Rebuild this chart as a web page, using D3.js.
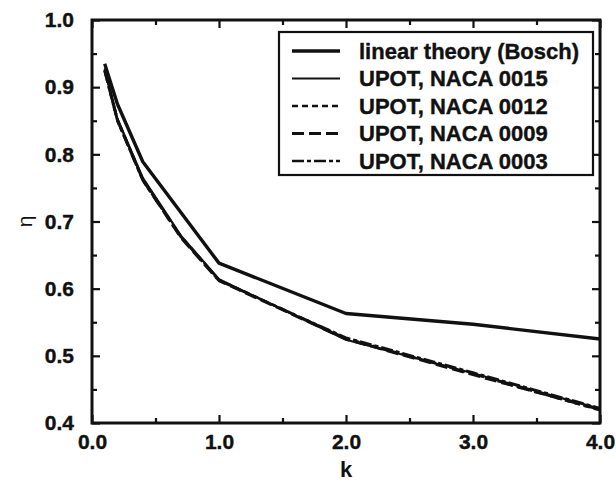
<!DOCTYPE html>
<html>
<head>
<meta charset="utf-8">
<script src="https://cdn.jsdelivr.net/npm/d3@7"></script>
<style>
  html, body { margin: 0; padding: 0; background: #fff; }
  svg { display: block; }
  text { font-family: "Liberation Sans", Arial, Helvetica, sans-serif; fill: #111; }
</style>
</head>
<body>
<svg id="chart" width="616" height="481"></svg>
<script>
// Reduced frequency k and propulsive efficiency eta
const kTheory   = [0.1, 0.2, 0.4, 1.0, 2.0, 3.0, 4.0];
const etaTheory = [0.935, 0.875, 0.789, 0.638, 0.563, 0.547, 0.525];

const kUpot    = [0.1, 0.2, 0.4, 0.7, 1.0, 2.0, 3.0, 4.0];
const eta0015  = [0.928, 0.853, 0.765, 0.679, 0.614, 0.524, 0.474, 0.421];
const eta0012  = [0.926, 0.852, 0.763, 0.678, 0.613, 0.526, 0.473, 0.419];
const eta0009  = [0.925, 0.851, 0.762, 0.676, 0.612, 0.525, 0.472, 0.420];
const eta0003  = [0.924, 0.850, 0.761, 0.677, 0.612, 0.527, 0.475, 0.422];

const seriesNames = ["linear theory (Bosch)", "UPOT, NACA 0015", "UPOT, NACA 0012", "UPOT, NACA 0009", "UPOT, NACA 0003"];

const xMajor = [0, 1, 2, 3, 4];
const xMinor = [0.5, 1.5, 2.5, 3.5];
const yMajor = [0.4, 0.5, 0.6, 0.7, 0.8, 0.9, 1.0];
const yMinor = [0.45, 0.55, 0.65, 0.75, 0.85, 0.95];

const svg = d3.select("#chart");
const L = 92, R = 600, T = 20, B = 423;

const x = d3.scaleLinear().domain([0, 4]).range([L, R]);
const y = d3.scaleLinear().domain([0.4, 1.0]).range([B, T]);

const series = [
  { name: seriesNames[0], k: kTheory, eta: etaTheory, width: 3.4, dash: null },
  { name: seriesNames[1], k: kUpot, eta: eta0015, width: 2.2, dash: null },
  { name: seriesNames[2], k: kUpot, eta: eta0012, width: 2.6, dash: "6,4" },
  { name: seriesNames[3], k: kUpot, eta: eta0009, width: 3.0, dash: "12,5" },
  { name: seriesNames[4], k: kUpot, eta: eta0003, width: 2.6, dash: "12,3,4,3" }
];

// inward ticks on all four sides
function styleAxis(g) {
  g.select(".domain").remove();
  g.selectAll(".tick line").attr("stroke", "#111").attr("stroke-width", 2.2);
}
function styleLabels(g) {
  g.selectAll("text").attr("font-size", 21).attr("font-weight", "bold")
    .attr("font-family", "Liberation Sans, Arial, sans-serif").attr("fill", "#111")
    .attr("stroke", "#111").attr("stroke-width", 0.4);
}
const fmt = d3.format(".1f");

svg.append("g").attr("transform", `translate(0,${B})`)
  .call(d3.axisBottom(x).tickValues(xMajor).tickSize(-8).tickPadding(11).tickFormat(fmt))
  .call(styleAxis).call(styleLabels);
svg.append("g").attr("transform", `translate(0,${B})`)
  .call(d3.axisBottom(x).tickValues(xMinor).tickSize(-5).tickFormat(""))
  .call(styleAxis);
svg.append("g").attr("transform", `translate(0,${T})`)
  .call(d3.axisTop(x).tickValues(xMajor).tickSize(-8).tickFormat(""))
  .call(styleAxis);
svg.append("g").attr("transform", `translate(0,${T})`)
  .call(d3.axisTop(x).tickValues(xMinor).tickSize(-5).tickFormat(""))
  .call(styleAxis);

svg.append("g").attr("transform", `translate(${L},0)`)
  .call(d3.axisLeft(y).tickValues(yMajor).tickSize(-8).tickPadding(18).tickFormat(fmt))
  .call(styleAxis).call(styleLabels);
svg.append("g").attr("transform", `translate(${L},0)`)
  .call(d3.axisLeft(y).tickValues(yMinor).tickSize(-5).tickFormat(""))
  .call(styleAxis);
svg.append("g").attr("transform", `translate(${R},0)`)
  .call(d3.axisRight(y).tickValues(yMajor).tickSize(-8).tickFormat(""))
  .call(styleAxis);
svg.append("g").attr("transform", `translate(${R},0)`)
  .call(d3.axisRight(y).tickValues(yMinor).tickSize(-5).tickFormat(""))
  .call(styleAxis);

// plot frame
svg.append("rect")
  .attr("x", L).attr("y", T).attr("width", R - L).attr("height", B - T)
  .attr("fill", "none").attr("stroke", "#111").attr("stroke-width", 3);

// curves
const line = d3.line().x(d => x(d[0])).y(d => y(d[1]));
svg.append("g").selectAll("path").data(series).join("path")
  .attr("d", s => line(s.k.map((k, i) => [k, s.eta[i]])))
  .attr("fill", "none").attr("stroke", "#111")
  .attr("stroke-width", s => s.width)
  .attr("stroke-dasharray", s => s.dash)
  .attr("stroke-linejoin", "round");

// legend
const lg = svg.append("g");
lg.append("rect").attr("x", 279).attr("y", 32).attr("width", 314).attr("height", 143)
  .attr("fill", "#fff").attr("stroke", "#111").attr("stroke-width", 2.2);
const rowY = i => 51 + i * 27.5;
const rows = lg.selectAll("g.row").data(series).join("g").attr("class", "row")
  .attr("transform", (d, i) => `translate(0,${rowY(i)})`);
rows.append("line").attr("x1", 292).attr("x2", 340).attr("y1", 0).attr("y2", 0)
  .attr("stroke", "#111").attr("stroke-width", d => d.width)
  .attr("stroke-dasharray", d => d.dash);
rows.append("text").attr("x", 359).attr("y", 0).attr("dy", "0.36em")
  .attr("font-size", 22).attr("font-weight", "bold")
  .attr("stroke", "#111").attr("stroke-width", 0.4)
  .attr("textLength", null)
  .text(d => d.name);

// axis titles
svg.append("text").attr("x", (L + R) / 2).attr("y", 477).attr("text-anchor", "middle")
  .attr("font-size", 22).attr("font-weight", "bold").text("k");
svg.append("text").attr("transform", `translate(26,${y(0.7)}) rotate(-90)`)
  .attr("text-anchor", "middle").attr("dy", "0.3em")
  .attr("font-family", "DejaVu Serif, serif")
  .attr("font-size", 21).text("η");
</script>
</body>
</html>
